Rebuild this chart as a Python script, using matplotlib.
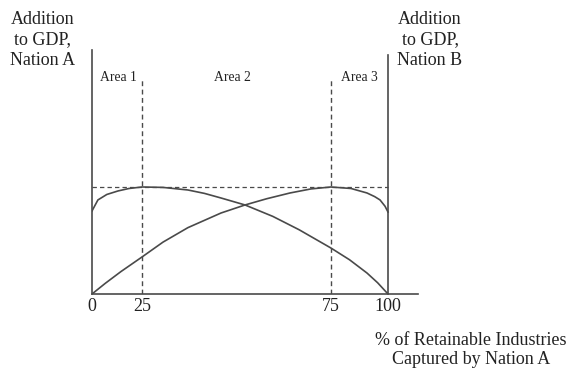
import matplotlib.pyplot as plt

# schematic x positions (plot units, 0..100) and what they are labelled
tickPos = [0, 16.9, 80.7, 100]
tickLabels = ["0", "25", "75", "100"]

# Nation A curve (peaks over "25")
nationAx = [0, 2.0, 5.0, 8.8, 12.5, 16.9, 24.0, 32.4, 38.0, 43.6, 51.7, 61.1, 70.0, 80.7, 87.0, 92.9, 96.5, 100]
nationAy = [77.6, 87.9, 93.0, 96.3, 98.6, 100, 99.6, 97.2, 94.0, 89.7, 83.2, 72.5, 60.0, 43.0, 32.0, 19.6, 10.5, 0]

# Nation B curve (peaks over "75")
nationBx = [0, 4.5, 9.8, 16.9, 24.0, 32.4, 43.6, 51.7, 59.0, 66.9, 74.0, 80.7, 87.5, 92.9, 95.5, 97.3, 99.0, 100]
nationBy = [0, 10.0, 21.0, 34.6, 48.5, 62.0, 75.7, 83.2, 89.0, 94.4, 98.2, 100, 98.6, 94.4, 91.0, 87.9, 82.0, 76.6]

areaLabels = ["Area 1", "Area 2", "Area 3"]
areaX = [8.8, 47.3, 90.2]

W, H = 574, 370
fig = plt.figure(figsize=(W/100, H/100), dpi=100)
plt.rcParams['font.family'] = ['Liberation Serif', 'DejaVu Serif']

# axes: x 0..110 from px 92, y 0..228 from px 294 up to px 50
ax = fig.add_axes([92/W, (H-294)/H, 110*2.96/W, 244/H])
ax.set_xlim(0, 110)
ax.set_ylim(0, 228)
for s in ax.spines.values():
    s.set_visible(False)
ax.set_yticks([])

lc = "#4a4a4a"
ax.plot([0, 110], [0, 0], color=lc, lw=1.2, clip_on=False)
ax.plot([0, 0], [0, 228], color=lc, lw=1.2, clip_on=False)
ax.plot([100, 100], [0, 223], color=lc, lw=1.2, clip_on=False)
ax.plot([tickPos[1]]*2, [0, 200], color=lc, lw=1.0, ls=(0, (3.5, 2.5)))
ax.plot([tickPos[2]]*2, [0, 200], color=lc, lw=1.0, ls=(0, (3.5, 2.5)))
ax.plot([0, 100], [100, 100], color=lc, lw=0.9, ls=(0, (3.5, 2.5)))

ax.plot(nationAx, nationAy, color=lc, lw=1.2)
ax.plot(nationBx, nationBy, color=lc, lw=1.2)

for lab, x in zip(areaLabels, areaX):
    ax.text(x, 202, lab, ha="center", va="center", fontsize=9.8, color="#222222")

ax.set_xticks(tickPos)
ax.set_xticklabels(tickLabels, fontsize=13, color="#222222")
ax.tick_params(axis="x", length=0, pad=3)

fig.text(43/W, 1-40/H, "Addition\nto GDP,\nNation A", ha="center", va="center",
         fontsize=13, linespacing=1.25, color="#222222")
fig.text(430/W, 1-40/H, "Addition\nto GDP,\nNation B", ha="center", va="center",
         fontsize=13, linespacing=1.25, color="#222222")
fig.text(471/W, 1-350/H, "% of Retainable Industries\nCaptured by Nation A", ha="center", va="center",
         fontsize=13, linespacing=1.15, color="#222222")

fig.savefig("out.png", dpi=100)
